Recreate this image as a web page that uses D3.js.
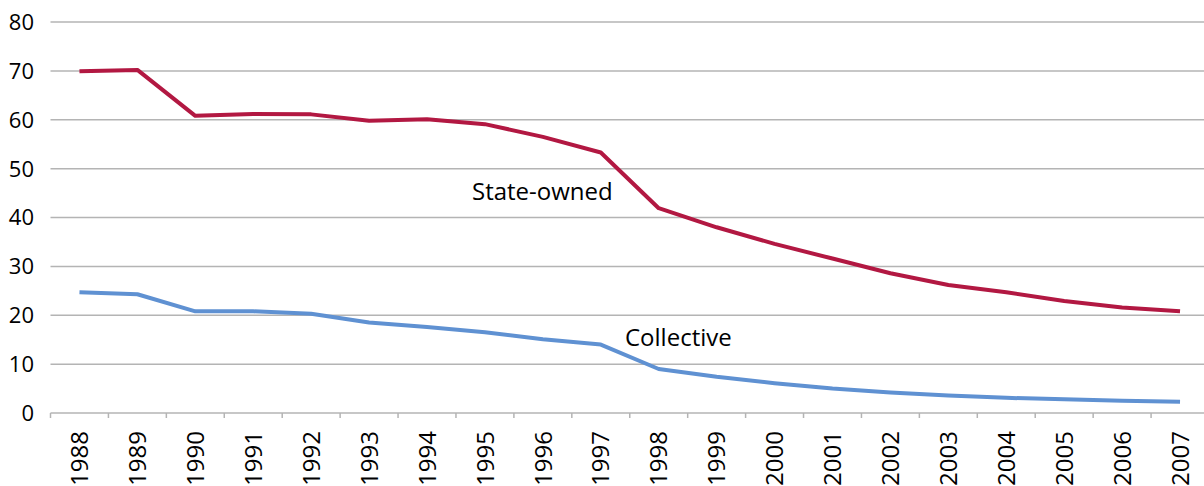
<!DOCTYPE html>
<html>
<head>
<meta charset="utf-8">
<script src="https://cdn.jsdelivr.net/npm/d3@7"></script>
<style>
  body { margin: 0; background: #fff; }
  svg { display: block; font-family: "Open Sans", "Noto Sans", sans-serif; }
</style>
</head>
<body>
<div id="chart"></div>
<script>
// data
var years = ["1988", "1989", "1990", "1991", "1992", "1993", "1994", "1995", "1996", "1997",
    "1998", "1999", "2000", "2001", "2002", "2003", "2004", "2005", "2006", "2007"];
var stateOwned = [69.9, 70.2, 60.8, 61.2, 61.1, 59.8, 60.1, 59.1, 56.5, 53.3,
    41.9, 38.0, 34.6, 31.6, 28.6, 26.2, 24.7, 22.9, 21.6, 20.8];
var collective = [24.7, 24.3, 20.8, 20.8, 20.3, 18.5, 17.6, 16.5, 15.1, 14.0,
    9.0, 7.4, 6.1, 5.0, 4.2, 3.6, 3.1, 2.8, 2.5, 2.3];
var yTicks = [0, 10, 20, 30, 40, 50, 60, 70, 80];

var chartWidth = 1204, chartHeight = 486;
var plotLeft = 50.5, plotRight = 1209, plotTop = 22, plotBottom = 413;

var svg = d3.select("#chart").append("svg")
    .attr("width", chartWidth)
    .attr("height", chartHeight);

var x = d3.scaleBand()
    .domain(years)
    .range([plotLeft, plotRight]);
var y = d3.scaleLinear()
    .domain([0, 80])
    .range([plotBottom, plotTop]);

// gridlines
svg.selectAll("line.grid")
    .data(yTicks.slice(1)).enter()
    .append("line")
    .attr("class", "grid")
    .attr("x1", plotLeft)
    .attr("x2", plotRight)
    .attr("y1", (d) => {return y(d)})
    .attr("y2", (d) => {return y(d)})
    .style("stroke", "#b4b4b4")
    .style("stroke-width", "1.5");

// y labels
svg.selectAll("text.ylab")
    .data(yTicks).enter()
    .append("text")
    .attr("class", "ylab")
    .attr("x", 34)
    .attr("y", (d) => {return y(d)})
    .attr("dy", "0.36em")
    .attr("text-anchor", "end")
    .style("font-size", "22px")
    .style("fill", "#000")
    .text((d) => {return d});

// x axis
var gx = svg.append("g")
    .attr("transform", "translate(0," + plotBottom + ")");
gx.append("line")
    .attr("x1", plotLeft)
    .attr("x2", plotRight)
    .style("stroke", "#b4b4b4")
    .style("stroke-width", "1.5");
// tick marks at category boundaries
var bounds = years.map((d) => {return x(d)}).concat([plotRight]);
gx.selectAll("line.tick-mark")
    .data(bounds).enter()
    .append("line")
    .attr("class", "tick-mark")
    .attr("x1", (d) => {return d})
    .attr("x2", (d) => {return d})
    .attr("y1", 0)
    .attr("y2", 5)
    .style("stroke", "#b4b4b4")
    .style("stroke-width", "1.5");
// rotated year labels
svg.selectAll("text.xlab")
    .data(years).enter()
    .append("text")
    .attr("class", "xlab")
    .attr("transform", (d) => {
        return "translate(" + (x(d) + x.bandwidth() / 2) + ",431) rotate(-90)";
    })
    .attr("dy", "0.36em")
    .attr("text-anchor", "end")
    .style("font-size", "24px")
    .style("fill", "#000")
    .text((d) => {return d});

// lines
var line = d3.line()
    .x((d, i) => {return x(years[i]) + x.bandwidth() / 2})
    .y((d) => {return y(d)});

svg.append("path")
    .datum(collective)
    .attr("d", line)
    .style("fill", "none")
    .style("stroke", "#5f91d2")
    .style("stroke-width", "4")
    .style("stroke-linejoin", "round");

svg.append("path")
    .datum(stateOwned)
    .attr("d", line)
    .style("fill", "none")
    .style("stroke", "#b21842")
    .style("stroke-width", "4")
    .style("stroke-linejoin", "round");

// series labels
svg.append("text")
    .attr("x", 472)
    .attr("y", 200)
    .style("font-size", "24px")
    .style("fill", "#000")
    .text("State-owned");
svg.append("text")
    .attr("x", 625)
    .attr("y", 346)
    .style("font-size", "24px")
    .style("fill", "#000")
    .text("Collective");
</script>
</body>
</html>
